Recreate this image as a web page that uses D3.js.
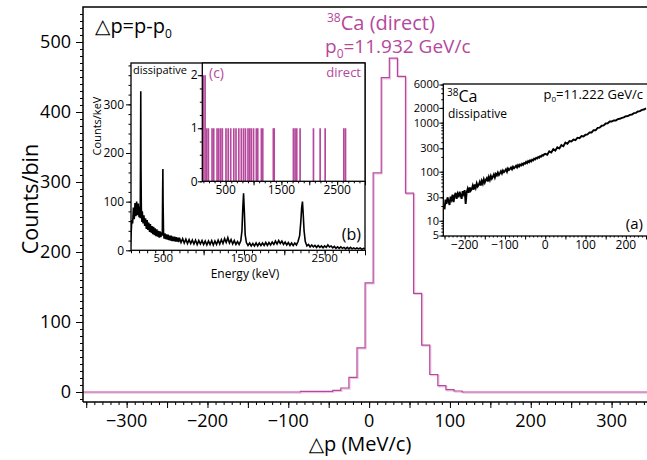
<!DOCTYPE html>
<html>
<head>
<meta charset="utf-8">
<script src="https://cdn.jsdelivr.net/npm/d3@7"></script>
<style>
  body { margin: 0; background: #fff; }
  svg text { font-family: "Open Sans", "DejaVu Sans", sans-serif; }
</style>
</head>
<body>
<svg id="chart" width="647" height="460"></svg>
<script>
// ---- main histogram: delta p (MeV/c), 10 MeV/c bins, lower edges + counts
const dpEdges  = [-85, -75, -65, -55, -45, -35, -25, -15, -5, 5, 15, 25, 35, 45, 55, 65, 75, 85, 95, 105, 115];
const dpCounts = [0.8, 0.8, 0.8, 1, 2.4, 5.7, 21, 63, 156, 313, 449, 477, 451, 284, 141, 67, 25, 9, 3.3, 1.4, 0];
const mainXTicks = [-300, -200, -100, 0, 100, 200, 300];
const mainYTicks = [0, 100, 200, 300, 400, 500];

// ---- inset (a): dissipative, log counts vs delta p
const aP = [-250,-247.5,-245,-242.5,-240,-237.5,-235,-232.5,-230,-227.5,-225,-222.5,-220,-217.5,-215,-212.5,-210,-207.5,-205,-202.5,
  -200,-197.5,-195,-192.5,-190,-187.5,-185,-182.5,-180,-177.5,-175,-172.5,-170,-167.5,-165,-162.5,-160,-157.5,-155,-152.5,
  -150,-147.5,-145,-142.5,-140,-137.5,-135,-132.5,-130,-127.5,-125,-122.5,-120,-117.5,-115,-112.5,-110,-107.5,-105,-102.5,
  -100,-97.5,-95,-92.5,-90,-87.5,-85,-82.5,-80,-77.5,-75,-72.5,-70,-67.5,-65,-62.5,-60,-57.5,-55,-52.5,
  -50,-47.5,-45,-42.5,-40,-37.5,-35,-32.5,-30,-27.5,-25,-22.5,-20,-17.5,-15,-12.5,-10,-7.5,-5,-2.5,
  0,5,10,15,20,25,30,35,40,45,50,55,60,65,70,75,80,85,90,95,
  100,105,110,115,120,125,130,135,140,145,150,155,160,165,170,175,180,185,190,195,
  200,205,210,215,220,225,230,235,240,245,250];
const aCounts = [17,27,22,30,25,21,31,27,34,24,32,37,28,35,30,39,33,28,40,35,
  42,22,38,45,37,48,41,44,52,43,55,47,58,50,54,62,52,65,57,70,
  60,68,74,63,78,68,82,72,79,88,76,90,84,96,86,93,102,92,106,98,
  104,112,100,116,108,114,122,112,126,118,124,132,122,136,128,140,134,145,138,150,
  146,158,150,164,156,170,162,176,170,184,178,192,186,200,194,208,204,218,214,226,
  232,222,260,246,288,270,316,298,348,330,392,372,420,412,452,440,494,484,534,522,
  568,578,634,632,704,700,784,790,866,880,964,970,1054,1056,1108,1110,1180,1198,1250,1278,
  1350,1358,1442,1466,1562,1586,1692,1716,1822,1856,1950];
const aYTicks = [5, 10, 30, 100, 300, 1000, 2000, 6000];
const aXTicks = [-200, -100, 0, 100, 200];

// ---- inset (b): dissipative gamma spectrum, counts/keV
const bE = [90,100,110,120,130,140,150,160,170,180,190,200,210,214,218,221,224,228,235,240,
  250,260,270,280,290,300,310,320,330,340,350,360,370,380,390,400,410,420,430,440,
  450,460,470,480,488,492,495,498,503,510,520,530,540,550,560,570,580,590,600,610,
  620,630,640,650,660,670,680,690,700,720,740,760,780,800,820,840,860,880,900,920,
  940,960,980,1000,1020,1040,1060,1080,1100,1120,1140,1160,1180,1200,1220,1240,1260,1280,1300,1320,
  1340,1360,1380,1400,1420,1440,1460,1475,1485,1495,1505,1515,1530,1550,1570,1590,1610,1630,1650,1670,
  1690,1710,1730,1750,1770,1790,1810,1830,1850,1870,1890,1910,1930,1950,1970,1990,2010,2030,2050,2070,
  2090,2110,2130,2150,2170,2190,2205,2215,2225,2235,2245,2260,2280,2300,2320,2340,2360,2380,2400,2420,
  2440,2460,2480,2500,2520,2540,2560,2580,2600,2620,2640,2660,2680,2700,2720,2740,2760,2780,2800,2820,
  2840,2860,2880,2900,2920,2940,2960,2980,3000];
const bC = [0,30,62,55,88,64,97,70,100,72,96,68,90,66,190,327,170,88,58,80,
  55,72,50,66,44,62,42,57,38,54,36,50,33,48,31,45,29,43,28,40,
  26,39,27,37,30,120,167,95,38,24,35,23,33,22,32,21,30,20,30,19,
  28,19,28,18,27,18,26,17,26,16,24,15,23,14,22,14,21,13,21,12,
  20,13,20,12,19,11,19,12,20,11,19,12,21,13,22,14,24,16,26,15,
  22,13,20,12,18,12,19,40,85,117,78,32,16,10,15,9,14,9,15,9,
  15,10,15,10,16,10,16,11,17,12,19,13,20,14,19,12,17,11,16,10,
  15,10,15,11,18,30,60,88,100,72,40,18,9,12,7,11,7,10,6,10,
  6,9,5,9,6,11,7,9,5,8,4,7,4,7,4,6,3,6,3,6,
  3,5,3,5,3,5,2,4,3];
const bXTicks = [500, 1500, 2500];
const bYTicks = [0, 100, 200, 300];

// ---- inset (c): direct gamma events, 30 keV bins
const cBins   = [85,115,145,175,240,270,330,360,395,425,490,530,575,630,670,720,765,805,840,885,915,945,985,1035,1060,1125,1150,1340,1355,1700,1730,1760,1820,2060,2180,2270,2605,2635];
const cCounts = [2,2,1,1,1,1,1,1,1,1,1,1,1,1,1,1,1,1,1,1,1,1,1,1,1,1,1,1,1,1,1,1,1,1,1,1,1,1];
const cXTicks = [500, 1500, 2500];
const cYTicks = [0, 1, 2];

const magenta = "#b5489c";
const pinkShade = "#ecc4e2";
const svg = d3.select("#chart");

function tickLines(g, axisGen) {
  g.call(axisGen);
  g.select(".domain").remove();
  g.selectAll("text").remove();
  g.selectAll("line").attr("stroke", "#000").attr("stroke-width", 1);
}

// ================= main panel =================
const x = d3.scaleLinear().domain([-354, 350]).range([83, 652]);
const y = d3.scaleLinear().domain([-14.3, 550]).range([402, 7]);

const histPts = [[x.domain()[0], 0]];
dpEdges.forEach((e, i) => histPts.push([e, dpCounts[i]]));
histPts.push([x.domain()[1], 0]);
const stepLine = d3.line().x(d => x(d[0])).y(d => y(d[1])).curve(d3.curveStepAfter);

svg.append("path").attr("d", stepLine(histPts)).attr("fill", "none")
  .attr("stroke", pinkShade).attr("stroke-width", 1.2).attr("transform", "translate(1.1,1.1)");
svg.append("path").attr("d", stepLine(histPts)).attr("fill", "none")
  .attr("stroke", magenta).attr("stroke-width", 1.2);

// axes frame
svg.append("path").attr("d", `M83,402V7H648`).attr("fill", "none").attr("stroke", "#000").attr("stroke-width", 1.5);
svg.append("line").attr("x1", 83).attr("x2", 648).attr("y1", 402).attr("y2", 402).attr("stroke", "#000").attr("stroke-width", 1.5);

tickLines(svg.append("g").attr("transform", "translate(0,402)"),
  d3.axisBottom(x).tickValues(d3.range(-350, 351, 10)).tickSize(3));
tickLines(svg.append("g").attr("transform", "translate(0,402)"),
  d3.axisBottom(x).tickValues(d3.range(-350, 351, 50)).tickSize(6));
tickLines(svg.append("g").attr("transform", "translate(83,0)"),
  d3.axisLeft(y).tickValues(d3.range(-10, 541, 10)).tickSize(3));
tickLines(svg.append("g").attr("transform", "translate(83,0)"),
  d3.axisLeft(y).tickValues(mainYTicks).tickSize(7));

const fmt = d3.format("");
svg.append("g").selectAll("text").data(mainXTicks).join("text")
  .attr("x", d => x(d)).attr("y", 427).attr("text-anchor", "middle")
  .attr("font-size", 18).text(d => fmt(d));
svg.append("g").selectAll("text").data(mainYTicks).join("text")
  .attr("x", 71).attr("y", d => y(d)).attr("dy", "0.35em").attr("text-anchor", "end")
  .attr("font-size", 18).text(d => d);

svg.append("text").attr("transform", "translate(38,199) rotate(-90)")
  .attr("text-anchor", "middle").attr("font-size", 21.5).text("Counts/bin");
svg.append("text").attr("x", 360).attr("y", 451).attr("text-anchor", "middle")
  .attr("font-size", 20).text("△p (MeV/c)");

const t1 = svg.append("text").attr("x", 95).attr("y", 33).attr("font-size", 20);
t1.append("tspan").text("△p=p-p");
t1.append("tspan").attr("font-size", 12).attr("dy", 5).text("0");

const t2 = svg.append("text").attr("x", 327).attr("y", 30).attr("font-size", 20).attr("fill", magenta);
t2.append("tspan").attr("font-size", 12).attr("dy", -8).text("38");
t2.append("tspan").attr("dy", 8).text("Ca (direct)");
const t3 = svg.append("text").attr("x", 325).attr("y", 53).attr("font-size", 19).attr("fill", magenta);
t3.append("tspan").text("p");
t3.append("tspan").attr("font-size", 12).attr("dy", 5).text("0");
t3.append("tspan").attr("dy", -5).text("=11.932 GeV/c");

// ================= inset (b) =================
const xb = d3.scaleLinear().domain([100, 3000]).range([131, 365]);
const yb = d3.scaleLinear().domain([0, 385]).range([250.3, 63]);
const gb = svg.append("g");
gb.append("rect").attr("x", 131).attr("y", 63).attr("width", 234).attr("height", 187.3)
  .attr("fill", "#fff").attr("stroke", "none");
svg.append("clipPath").attr("id", "clipB").append("rect")
  .attr("x", 131).attr("y", 63).attr("width", 234).attr("height", 187.3);
gb.append("path").attr("clip-path", "url(#clipB)")
  .attr("d", d3.line().x((d, i) => xb(bE[i])).y(d => yb(d))(bC))
  .attr("fill", "none").attr("stroke", "#000").attr("stroke-width", 1.6);
gb.append("rect").attr("x", 131).attr("y", 63).attr("width", 234).attr("height", 187.3)
  .attr("fill", "none").attr("stroke", "#000").attr("stroke-width", 1.3);

tickLines(gb.append("g").attr("transform", "translate(0,250.3)"),
  d3.axisBottom(xb).tickValues(d3.range(100, 3001, 100)).tickSize(3));
tickLines(gb.append("g").attr("transform", "translate(0,250.3)"),
  d3.axisBottom(xb).tickValues(d3.range(500, 3001, 500)).tickSize(5));
tickLines(gb.append("g").attr("transform", "translate(131,0)"),
  d3.axisLeft(yb).tickValues(d3.range(0, 381, 20)).tickSize(2.5));
tickLines(gb.append("g").attr("transform", "translate(131,0)"),
  d3.axisLeft(yb).tickValues(bYTicks).tickSize(5));

gb.append("g").selectAll("text").data(bXTicks).join("text")
  .attr("x", d => xb(d)).attr("y", 261.5).attr("text-anchor", "middle").attr("font-size", 11.5).text(d => d);
gb.append("g").selectAll("text").data(bYTicks).join("text")
  .attr("x", 124).attr("y", d => yb(d)).attr("dy", "0.35em").attr("text-anchor", "end")
  .attr("font-size", 12).text(d => d);
gb.append("text").attr("x", 245).attr("y", 278).attr("text-anchor", "middle")
  .attr("font-size", 12).text("Energy (keV)");
gb.append("text").attr("transform", "translate(101,126) rotate(-90)")
  .attr("text-anchor", "middle").attr("font-size", 11).text("Counts/keV");
gb.append("text").attr("x", 133).attr("y", 74).attr("font-size", 11).text("dissipative");
gb.append("text").attr("x", 361).attr("y", 240).attr("text-anchor", "end").attr("font-size", 16).text("(b)");

// ================= inset (c) =================
const xc = d3.scaleLinear().domain([80, 3000]).range([202.3, 365]);
const yc = d3.scaleLinear().domain([0, 2.23]).range([181.3, 63]);
const cWidth = 30;
const gc = svg.append("g");
gc.append("rect").attr("x", 202.3).attr("y", 63).attr("width", 162.7).attr("height", 118.3)
  .attr("fill", "#fff");
gc.append("g").selectAll("rect").data(cBins).join("rect")
  .attr("x", d => xc(d)).attr("width", d => xc(d + cWidth) - xc(d))
  .attr("y", (d, i) => yc(cCounts[i])).attr("height", (d, i) => yc(0) - yc(cCounts[i]))
  .attr("fill", magenta);
gc.append("rect").attr("x", 202.3).attr("y", 63).attr("width", 162.7).attr("height", 118.3)
  .attr("fill", "none").attr("stroke", "#000").attr("stroke-width", 1.3);

tickLines(gc.append("g").attr("transform", "translate(0,181.3)"),
  d3.axisBottom(xc).tickValues(d3.range(100, 3001, 100)).tickSize(2));
tickLines(gc.append("g").attr("transform", "translate(0,181.3)"),
  d3.axisBottom(xc).tickValues(d3.range(500, 3001, 500)).tickSize(4));
tickLines(gc.append("g").attr("transform", "translate(202.3,0)"),
  d3.axisLeft(yc).tickValues(d3.range(0, 2.01, 0.25)).tickSize(2.5));
tickLines(gc.append("g").attr("transform", "translate(202.3,0)"),
  d3.axisLeft(yc).tickValues(cYTicks).tickSize(4.5));

gc.append("g").selectAll("text").data(cXTicks).join("text")
  .attr("x", d => xc(d)).attr("y", 194).attr("text-anchor", "middle").attr("font-size", 12).text(d => d);
gc.append("g").selectAll("text").data(cYTicks).join("text")
  .attr("x", 197.5).attr("y", d => yc(d)).attr("dy", "0.35em").attr("text-anchor", "end")
  .attr("font-size", 12).text(d => d);
gc.append("text").attr("x", 209).attr("y", 78).attr("font-size", 14).attr("fill", magenta).text("(c)");
gc.append("text").attr("x", 361).attr("y", 77).attr("text-anchor", "end").attr("font-size", 13)
  .attr("fill", magenta).text("direct");

// ================= inset (a) =================
const xa = d3.scaleLinear().domain([-253, 255]).range([443.3, 648]);
const ya = d3.scaleLog().domain([5, 6000]).range([235.5, 84.5]);
const ga = svg.append("g");
ga.append("rect").attr("x", 443.3).attr("y", 84).attr("width", 206).attr("height", 152)
  .attr("fill", "#fff").attr("stroke", "#000").attr("stroke-width", 1.3);
svg.append("clipPath").attr("id", "clipA").append("rect")
  .attr("x", 443.3).attr("y", 84).attr("width", 206).attr("height", 152);
ga.append("path").attr("clip-path", "url(#clipA)")
  .attr("d", d3.line().x((d, i) => xa(aP[i])).y(d => ya(d))(aCounts))
  .attr("fill", "none").attr("stroke", "#000").attr("stroke-width", 1.9);

const logMinor = [];
[1, 10, 100, 1000].forEach(dec => [1,2,3,4,5,6,7,8,9].forEach(m => {
  const v = dec * m; if (v >= 5 && v <= 6000) logMinor.push(v);
}));
tickLines(ga.append("g").attr("transform", "translate(443.3,0)"),
  d3.axisLeft(ya).tickValues(logMinor).tickSize(2));
tickLines(ga.append("g").attr("transform", "translate(443.3,0)"),
  d3.axisLeft(ya).tickValues(aYTicks).tickSize(4));
tickLines(ga.append("g").attr("transform", "translate(0,236)"),
  d3.axisBottom(xa).tickValues(d3.range(-250, 251, 10)).tickSize(1.5));
tickLines(ga.append("g").attr("transform", "translate(0,236)"),
  d3.axisBottom(xa).tickValues(d3.range(-250, 251, 50)).tickSize(3.5));

ga.append("g").selectAll("text").data(aYTicks).join("text")
  .attr("x", 439).attr("y", d => ya(d)).attr("dy", "0.35em").attr("text-anchor", "end")
  .attr("font-size", 11).text(d => d);
ga.append("g").selectAll("text").data(aXTicks).join("text")
  .attr("x", d => xa(d)).attr("y", 249).attr("text-anchor", "middle")
  .attr("font-size", 12).text(d => fmt(d));

const ta = ga.append("text").attr("x", 447).attr("y", 102).attr("font-size", 16);
ta.append("tspan").attr("font-size", 10).attr("dy", -6).text("38");
ta.append("tspan").attr("dy", 6).text("Ca");
ga.append("text").attr("x", 448).attr("y", 118).attr("font-size", 12).text("dissipative");
const tp = ga.append("text").attr("x", 643).attr("y", 99).attr("text-anchor", "end").attr("font-size", 13);
tp.append("tspan").text("p");
tp.append("tspan").attr("font-size", 8).attr("dy", 3).text("0");
tp.append("tspan").attr("dy", -3).text("=11.222 GeV/c");
ga.append("text").attr("x", 643).attr("y", 229).attr("text-anchor", "end").attr("font-size", 15).text("(a)");
</script>
</body>
</html>
